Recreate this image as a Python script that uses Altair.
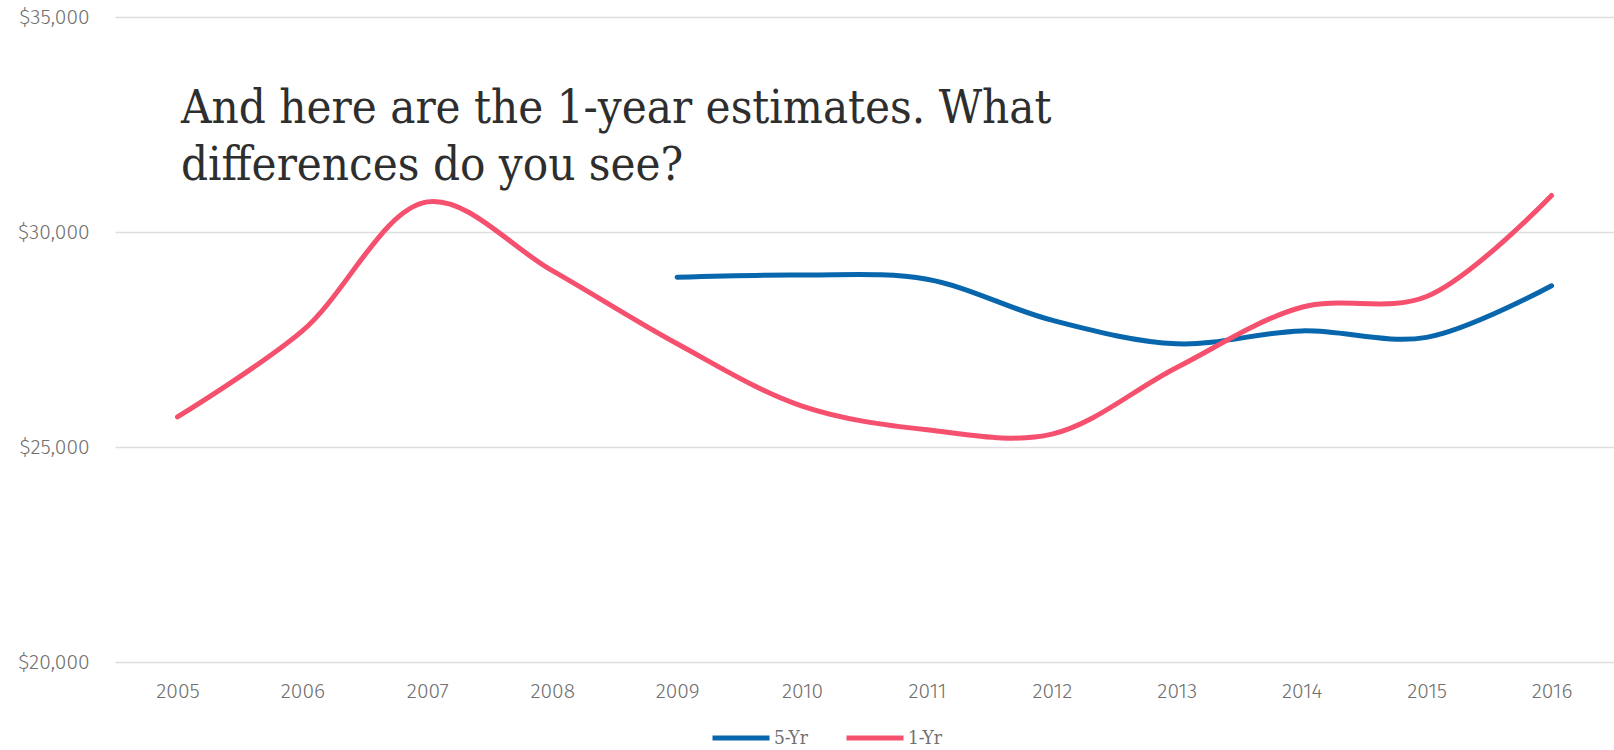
import altair as alt
import pandas as pd

years = list(range(2005, 2017))
one_yr = [25700, 27700, 30700, 29100, 27400, 25950, 25400, 25300, 26850, 28250, 28500, 30850]
five_yr_years = list(range(2009, 2017))
five_yr = [28950, 29000, 28900, 27950, 27400, 27700, 27550, 28750]
series_order = ["5-Yr", "1-Yr"]
series_colors = ["#0866ac", "#f5506e"]
y_ticks = [20000, 25000, 30000, 35000]
title_lines = ["And here are the 1-year estimates. What", "differences do you see?"]

rows = [{"year": y, "value": v, "series": "5-Yr"} for y, v in zip(five_yr_years, five_yr)]
rows += [{"year": y, "value": v, "series": "1-Yr"} for y, v in zip(years, one_yr)]
df = pd.DataFrame(rows)

label_font = "Fira Sans, Open Sans, sans-serif"
serif_font = "DejaVu Serif Condensed, DejaVu Serif, serif"

lines = alt.Chart(df).mark_line(
    interpolate="catmull-rom", strokeWidth=5, strokeCap="round", strokeJoin="round"
).encode(
    x=alt.X("year:Q",
            scale=alt.Scale(domain=[2004.5, 2016.5], nice=False, zero=False),
            axis=alt.Axis(values=years, format="d", grid=False, ticks=False, domain=False,
                          labelFont=label_font, labelFontSize=21, labelFontWeight=300,
                          labelColor="#707070", labelPadding=18, title=None,
                          labelFlush=False)),
    y=alt.Y("value:Q",
            scale=alt.Scale(domain=[20000, 35000], nice=False, zero=False),
            axis=alt.Axis(values=y_ticks, format="$,d", grid=True, gridColor="#dedede",
                          gridWidth=1.5, ticks=False, domain=False,
                          labelFont=label_font, labelFontSize=21, labelFontWeight=300,
                          labelColor="#707070", labelPadding=26, title=None)),
    color=alt.Color("series:N",
                    scale=alt.Scale(domain=series_order, range=series_colors),
                    legend=alt.Legend(orient="none", legendX=595, legendY=690,
                                      direction="horizontal", title=None,
                                      symbolType="stroke", symbolSize=3249,
                                      symbolStrokeWidth=5, labelFont=serif_font,
                                      labelFontSize=19, labelColor="#707070",
                                      labelBaseline="middle",
                                      labelOffset=2, columnPadding=27, padding=0)),
    order=alt.Order("year:Q"),
)

title = alt.Chart(pd.DataFrame({"t": [title_lines]})).mark_text(
    align="left", baseline="alphabetic", font=serif_font, fontSize=47,
    lineHeight=57, color="#2e2e2e"
).encode(
    x=alt.value(66), y=alt.value(106), text="t"
)

chart = alt.layer(lines, title).properties(
    width=1499, height=645,
    autosize=alt.AutoSizeParams(type="none"),
    padding={"left": 115, "top": 17, "right": 0, "bottom": 88},
    background="white",
).configure_view(strokeWidth=0)

chart.save("out.html", embed_options={"renderer": "svg", "actions": False})
